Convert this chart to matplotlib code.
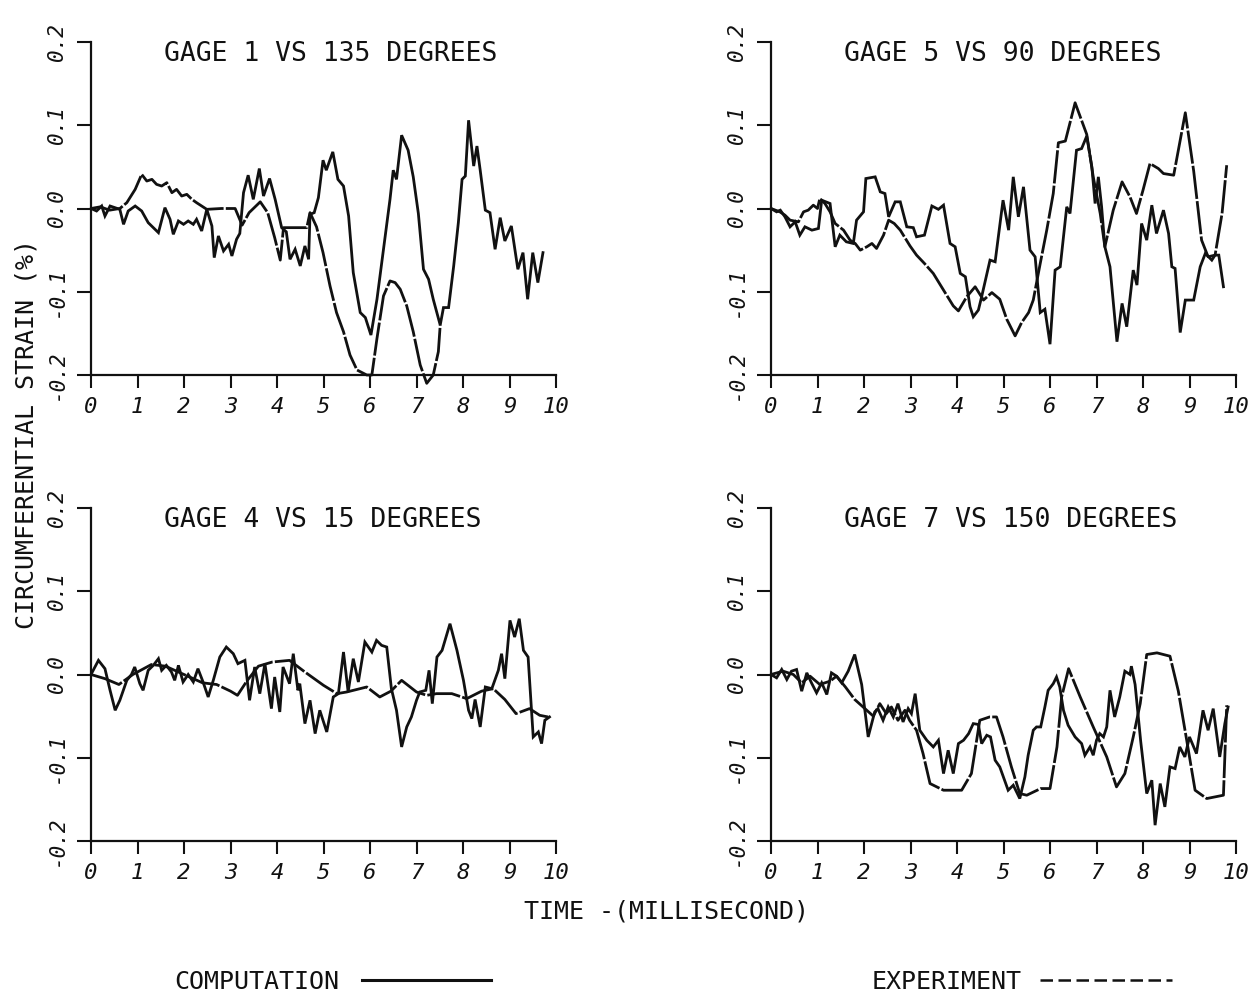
import matplotlib
matplotlib.use("Agg")
import matplotlib.pyplot as plt
from matplotlib.lines import Line2D

plt.rcParams['axes.unicode_minus'] = False
MONO = 'DejaVu Sans Mono'

# ---------------- data (time in ms, strain in %) ----------------
titles = ["GAGE 1 VS 135 DEGREES", "GAGE 5 VS 90 DEGREES",
          "GAGE 4 VS 15 DEGREES", "GAGE 7 VS 150 DEGREES"]
x_ticks = [0, 1, 2, 3, 4, 5, 6, 7, 8, 9, 10]
x_tick_labels = ["0", "1", "2", "3", "4", "5", "6", "7", "8", "9", "10"]
y_ticks = [-0.2, -0.1, 0.0, 0.1, 0.2]
y_tick_labels = ["-0.2", "-0.1", "0.0", "0.1", "0.2"]

# Gage 1 - computation
g1_comp_t = [0.0, 0.12, 0.23, 0.3, 0.41, 0.62, 0.7, 0.8, 0.95, 1.09, 1.23, 1.45, 1.59, 1.7, 1.77,
             1.88, 1.99, 2.09, 2.2, 2.27, 2.38, 2.49, 2.6, 2.65, 2.74, 2.85, 2.96, 3.03, 3.13, 3.2,
             3.28, 3.38, 3.49, 3.62, 3.71, 3.84, 3.96, 4.1, 4.2, 4.28, 4.39, 4.5, 4.6, 4.68, 4.71,
             4.8, 4.89, 4.99, 5.06, 5.2, 5.31, 5.43, 5.54, 5.64, 5.79, 5.9, 6.02, 6.15, 6.29, 6.43,
             6.5, 6.57, 6.68, 6.82, 6.93, 7.04, 7.15, 7.26, 7.36, 7.51, 7.58, 7.69, 7.8, 7.9, 7.98,
             8.05, 8.12, 8.23, 8.3, 8.37, 8.48, 8.58, 8.69, 8.8, 8.9, 9.04, 9.18, 9.29, 9.39, 9.5,
             9.61, 9.72]
g1_comp_v = [0.0, -0.003, 0.003, -0.009, 0.003, -0.001, -0.019, -0.003, 0.003, -0.003, -0.017,
             -0.029, 0.001, -0.013, -0.031, -0.015, -0.019, -0.015, -0.019, -0.013, -0.027, -0.001,
             -0.021, -0.059, -0.033, -0.051, -0.043, -0.057, -0.037, -0.03, 0.019, 0.04, 0.011,
             0.048, 0.015, 0.036, 0.011, -0.023, -0.028, -0.061, -0.049, -0.069, -0.045, -0.061,
             -0.007, -0.005, 0.013, 0.058, 0.046, 0.068, 0.035, 0.027, -0.009, -0.077, -0.125,
             -0.131, -0.152, -0.109, -0.049, 0.011, 0.046, 0.035, 0.088, 0.07, 0.038, -0.006,
             -0.073, -0.085, -0.109, -0.14, -0.119, -0.119, -0.069, -0.017, 0.035, 0.039, 0.106,
             0.051, 0.075, 0.046, -0.002, -0.005, -0.049, -0.011, -0.039, -0.021, -0.073, -0.053,
             -0.109, -0.053, -0.089, -0.053]
# Gage 1 - experiment
g1_exp_t = [0.0, 0.2, 0.4, 0.62, 0.77, 0.95, 1.09, 1.2, 1.31, 1.41, 1.52, 1.63, 1.74, 1.84, 1.95,
            2.06, 2.17, 2.27, 2.38, 2.49, 2.8, 3.1, 3.25, 3.4, 3.64, 3.8, 3.95, 4.07, 4.14, 4.64,
            4.71, 4.85, 4.99, 5.14, 5.28, 5.43, 5.57, 5.72, 5.93, 6.04, 6.15, 6.29, 6.43, 6.54,
            6.65, 6.79, 6.93, 7.08, 7.22, 7.36, 7.47, 7.51]
g1_exp_v = [0.0, 0.002, -0.002, 0.0, 0.007, 0.023, 0.041, 0.033, 0.035, 0.029, 0.027, 0.031,
            0.019, 0.023, 0.015, 0.017, 0.011, 0.007, 0.003, -0.001, 0.0, 0.0, -0.02, -0.005,
            0.008, -0.005, -0.035, -0.062, -0.023, -0.023, -0.005, -0.022, -0.053, -0.093,
            -0.125, -0.148, -0.176, -0.194, -0.2, -0.2, -0.156, -0.105, -0.087, -0.089, -0.097,
            -0.117, -0.148, -0.188, -0.21, -0.2, -0.172, -0.14]

# Gage 5 - computation
g5_comp_t = [0.0, 0.12, 0.2, 0.3, 0.41, 0.52, 0.62, 0.73, 0.88, 1.02, 1.09, 1.27, 1.38, 1.48,
             1.62, 1.77, 1.84, 1.99, 2.04, 2.24, 2.35, 2.45, 2.53, 2.67, 2.78, 2.92, 3.06, 3.13,
             3.3, 3.46, 3.6, 3.71, 3.85, 3.96, 4.07, 4.18, 4.28, 4.35, 4.46, 4.53, 4.71, 4.82,
             4.99, 5.11, 5.21, 5.32, 5.43, 5.57, 5.68, 5.79, 5.89, 6.0, 6.11, 6.22, 6.36, 6.43,
             6.57, 6.68, 6.79, 6.9, 6.97, 7.04, 7.11, 7.18, 7.29, 7.44, 7.55, 7.65, 7.79, 7.87,
             7.97, 8.08, 8.19, 8.29, 8.44, 8.55, 8.62, 8.69, 8.8, 8.91, 9.09, 9.23, 9.34, 9.48,
             9.55, 9.63, 9.73]
g5_comp_v = [0.0, -0.004, -0.002, -0.01, -0.022, -0.016, -0.032, -0.022, -0.026, -0.024, 0.01,
             0.006, -0.046, -0.032, -0.04, -0.042, -0.014, -0.004, 0.036, 0.038, 0.02, 0.018,
             -0.01, 0.008, 0.008, -0.022, -0.023, -0.034, -0.032, 0.003, -0.001, 0.004, -0.042,
             -0.046, -0.078, -0.082, -0.118, -0.13, -0.122, -0.106, -0.062, -0.064, 0.01, -0.026,
             0.038, -0.01, 0.026, -0.05, -0.058, -0.125, -0.121, -0.163, -0.074, -0.07, 0.002,
             -0.006, 0.07, 0.072, 0.087, 0.05, 0.006, 0.038, 0.002, -0.046, -0.07, -0.16, -0.114,
             -0.142, -0.074, -0.092, -0.018, -0.038, 0.004, -0.03, -0.002, -0.03, -0.07, -0.072,
             -0.149, -0.11, -0.11, -0.07, -0.054, -0.062, -0.056, -0.056, -0.094]
# Gage 5 - experiment
g5_exp_t = [0.0, 0.19, 0.3, 0.41, 0.59, 0.7, 0.8, 0.91, 1.0, 1.05, 1.16, 1.27, 1.38, 1.56, 1.7,
            1.81, 1.92, 2.06, 2.17, 2.27, 2.42, 2.53, 2.65, 2.78, 2.99, 3.13, 3.3, 3.49, 3.71,
            3.92, 4.03, 4.21, 4.39, 4.57, 4.75, 4.92, 5.07, 5.25, 5.39, 5.54, 5.64, 5.79, 5.93,
            6.07, 6.18, 6.33, 6.54, 6.79, 6.93, 7.08, 7.18, 7.36, 7.55, 7.72, 7.86, 8.0, 8.15,
            8.33, 8.44, 8.66, 8.91, 9.09, 9.26, 9.4, 9.55, 9.7, 9.8]
g5_exp_v = [0.0, -0.004, -0.008, -0.014, -0.016, -0.004, -0.002, 0.004, 0.0, 0.012, 0.006,
            -0.004, -0.018, -0.026, -0.038, -0.042, -0.05, -0.046, -0.042, -0.048, -0.032, -0.014,
            -0.018, -0.026, -0.045, -0.056, -0.066, -0.078, -0.098, -0.117, -0.123, -0.106,
            -0.094, -0.11, -0.101, -0.109, -0.133, -0.153, -0.137, -0.125, -0.11, -0.066, -0.026,
            0.018, 0.079, 0.081, 0.127, 0.089, 0.038, -0.006, -0.046, -0.002, 0.032, 0.014,
            -0.006, 0.022, 0.054, 0.048, 0.042, 0.04, 0.115, 0.045, -0.038, -0.058, -0.056,
            -0.006, 0.052]

# Gage 4 - computation
g4_comp_t = [0.0, 0.16, 0.3, 0.41, 0.52, 0.62, 0.77, 0.87, 0.94, 1.05, 1.12, 1.23, 1.34, 1.45,
             1.52, 1.62, 1.73, 1.8, 1.88, 1.98, 2.09, 2.2, 2.3, 2.41, 2.52, 2.63, 2.77, 2.91,
             3.06, 3.16, 3.31, 3.41, 3.52, 3.63, 3.74, 3.88, 3.95, 4.06, 4.13, 4.27, 4.35, 4.45,
             4.49, 4.6, 4.71, 4.82, 4.92, 5.07, 5.21, 5.32, 5.43, 5.53, 5.64, 5.75, 5.89, 6.04,
             6.14, 6.25, 6.36, 6.46, 6.57, 6.68, 6.79, 6.89, 7.0, 7.07, 7.2, 7.27, 7.34, 7.44,
             7.55, 7.72, 7.87, 8.01, 8.12, 8.19, 8.26, 8.37, 8.48, 8.62, 8.76, 8.83, 8.9, 9.01,
             9.11, 9.21, 9.3, 9.4, 9.51, 9.62, 9.69, 9.76, 9.86]
g4_comp_v = [0.0, 0.017, 0.007, -0.019, -0.043, -0.031, -0.007, 0.0, 0.009, -0.011, -0.019,
             0.005, 0.011, 0.019, 0.005, 0.011, 0.003, -0.007, 0.011, -0.009, 0.0, -0.009, 0.007,
             -0.009, -0.027, -0.007, 0.021, 0.033, 0.025, 0.013, 0.017, -0.031, 0.009, -0.023,
             0.013, -0.041, -0.003, -0.045, 0.009, -0.011, 0.025, -0.019, -0.011, -0.059, -0.031,
             -0.071, -0.043, -0.069, -0.027, -0.023, 0.027, -0.021, 0.019, -0.009, 0.039, 0.027,
             0.041, 0.035, 0.033, -0.017, -0.043, -0.087, -0.063, -0.051, -0.031, -0.021, -0.019,
             0.005, -0.035, 0.021, 0.029, 0.061, 0.029, -0.007, -0.043, -0.053, -0.03, -0.063,
             -0.015, -0.017, 0.005, 0.025, -0.005, 0.065, 0.045, 0.067, 0.029, 0.021, -0.075,
             -0.069, -0.083, -0.055, -0.051]
# Gage 4 - experiment
g4_exp_t = [0.0, 0.3, 0.6, 0.9, 1.3, 1.6, 2.0, 2.4, 2.7, 3.0, 3.15, 3.35, 3.6, 3.9, 4.27, 4.6,
            5.0, 5.29, 5.5, 5.93, 6.21, 6.45, 6.68, 7.0, 7.22, 7.43, 7.76, 8.08, 8.4, 8.65, 8.9,
            9.14, 9.43, 9.65, 9.83]
g4_exp_v = [0.0, -0.005, -0.012, 0.0, 0.012, 0.01, 0.0, -0.01, -0.012, -0.02, -0.025, -0.008,
            0.01, 0.015, 0.017, 0.003, -0.013, -0.023, -0.021, -0.015, -0.027, -0.02, -0.007,
            -0.021, -0.025, -0.023, -0.023, -0.029, -0.02, -0.017, -0.03, -0.047, -0.041,
            -0.049, -0.051]

# Gage 7 - computation
g7_comp_t = [0.0, 0.12, 0.23, 0.34, 0.44, 0.55, 0.66, 0.77, 0.87, 0.98, 1.09, 1.2, 1.3, 1.41,
             1.52, 1.66, 1.8, 1.95, 2.09, 2.23, 2.3, 2.41, 2.52, 2.63, 2.73, 2.84, 2.95, 3.02,
             3.1, 3.2, 3.35, 3.49, 3.6, 3.71, 3.81, 3.92, 4.03, 4.14, 4.25, 4.35, 4.46, 4.53,
             4.64, 4.72, 4.82, 4.92, 5.1, 5.21, 5.35, 5.46, 5.53, 5.64, 5.71, 5.8, 5.89, 5.96,
             6.07, 6.14, 6.21, 6.29, 6.39, 6.54, 6.68, 6.75, 6.86, 6.93, 7.0, 7.07, 7.15, 7.22,
             7.29, 7.39, 7.5, 7.61, 7.72, 7.75, 7.83, 7.95, 8.08, 8.19, 8.26, 8.37, 8.47, 8.58,
             8.69, 8.79, 8.9, 9.0, 9.15, 9.29, 9.4, 9.51, 9.65, 9.76, 9.83]
g7_comp_v = [0.0, -0.004, 0.006, -0.006, 0.004, 0.006, -0.02, 0.002, -0.01, -0.022, -0.01,
             -0.024, 0.002, -0.002, -0.01, 0.004, 0.024, -0.012, -0.075, -0.045, -0.041, -0.055,
             -0.039, -0.051, -0.035, -0.057, -0.041, -0.047, -0.023, -0.067, -0.079, -0.087,
             -0.079, -0.119, -0.091, -0.119, -0.083, -0.079, -0.071, -0.059, -0.06, -0.083,
             -0.073, -0.075, -0.103, -0.111, -0.139, -0.133, -0.149, -0.123, -0.097, -0.067,
             -0.063, -0.063, -0.039, -0.019, -0.011, -0.003, -0.015, -0.043, -0.061, -0.075,
             -0.083, -0.097, -0.087, -0.097, -0.079, -0.071, -0.075, -0.063, -0.019, -0.051,
             -0.027, 0.004, 0.0, 0.01, -0.012, -0.08, -0.143, -0.127, -0.181, -0.131, -0.159,
             -0.111, -0.113, -0.087, -0.099, -0.075, -0.095, -0.043, -0.067, -0.041, -0.099,
             -0.059, -0.039]
# Gage 7 - experiment
g7_exp_t = [0.0, 0.26, 0.48, 0.66, 0.84, 1.05, 1.27, 1.41, 1.6, 1.8, 2.0, 2.2, 2.34, 2.48,
            2.59, 2.73, 2.88, 2.98, 3.13, 3.27, 3.42, 3.71, 4.1, 4.31, 4.49, 4.7, 4.85, 4.99,
            5.17, 5.35, 5.5, 5.8, 6.0, 6.15, 6.25, 6.4, 6.65, 6.93, 7.22, 7.43, 7.61, 7.79,
            7.94, 8.08, 8.3, 8.58, 8.76, 8.94, 9.12, 9.37, 9.73, 9.8]
g7_exp_v = [0.0, 0.004, 0.0, -0.01, -0.002, -0.012, -0.008, -0.002, -0.015, -0.03, -0.04,
            -0.05, -0.035, -0.047, -0.039, -0.055, -0.043, -0.055, -0.067, -0.095, -0.131,
            -0.139, -0.139, -0.119, -0.055, -0.051, -0.051, -0.075, -0.111, -0.143, -0.145,
            -0.137, -0.137, -0.087, -0.027, 0.007, -0.027, -0.063, -0.099, -0.135, -0.119,
            -0.075, -0.035, 0.024, 0.026, 0.022, -0.02, -0.079, -0.139, -0.149, -0.145, -0.037]

panels = [
    (g1_comp_t, g1_comp_v, g1_exp_t, g1_exp_v),
    (g5_comp_t, g5_comp_v, g5_exp_t, g5_exp_v),
    (g4_comp_t, g4_comp_v, g4_exp_t, g4_exp_v),
    (g7_comp_t, g7_comp_v, g7_exp_t, g7_exp_v),
]

# ---------------- figure ----------------
W, H = 1260, 1000
fig = plt.figure(figsize=(W / 100, H / 100), dpi=100)
fig.patch.set_facecolor('white')

ax_w, ax_h = 465, 333
origins = [(91, 42), (771, 42), (91, 508), (771, 508)]  # pixel top-left of each axes

INK = '#111111'
for (px, py), title, (ct, cv, et, ev) in zip(origins, titles, panels):
    ax = fig.add_axes([px / W, 1 - (py + ax_h) / H, ax_w / W, ax_h / H])
    ax.set_xlim(0, 10)
    ax.set_ylim(-0.2, 0.2)
    for s in ('top', 'right'):
        ax.spines[s].set_visible(False)
    for s in ('left', 'bottom'):
        ax.spines[s].set_linewidth(1.6)
        ax.spines[s].set_color(INK)
    ax.set_xticks(x_ticks)
    ax.set_xticklabels(x_tick_labels, fontsize=16, family=MONO, style='italic', color=INK)
    ax.set_yticks(y_ticks)
    ax.set_yticklabels(y_tick_labels, fontsize=15, family=MONO, style='italic', color=INK,
                       rotation=90, va='center')
    ax.tick_params(axis='x', direction='out', length=9, width=1.5, pad=7, colors=INK)
    ax.tick_params(axis='y', direction='out', length=10, width=1.5, pad=7, colors=INK)

    ax.plot(ct, cv, color=INK, lw=2.0, clip_on=False, solid_joinstyle='miter')
    ax.plot(et, ev, color=INK, lw=2.0, clip_on=False, dashes=(12, 0.8))

    ax.text(0.157, 0.963, title, transform=ax.transAxes, ha='left', va='center',
            fontsize=19, family=MONO, color=INK)

fig.text(27 / W, 1 - 434 / H, "CIRCUMFERENTIAL STRAIN (%)", rotation=90,
         ha='center', va='center', fontsize=18, family=MONO, color=INK)
fig.text(666 / W, 1 - 912 / H, "TIME -(MILLISECOND)", ha='center', va='center',
         fontsize=18, family=MONO, color=INK)

fig.text(174 / W, 1 - 982 / H, "COMPUTATION", ha='left', va='center',
         fontsize=18, family=MONO, color=INK)
fig.add_artist(Line2D([362 / W, 491 / W], [1 - 980 / H, 1 - 980 / H],
                      transform=fig.transFigure, color=INK, lw=2.2))
fig.text(872 / W, 1 - 982 / H, "EXPERIMENT", ha='left', va='center',
         fontsize=18, family=MONO, color=INK)
fig.add_artist(Line2D([1040 / W, 1172 / W], [1 - 980 / H, 1 - 980 / H],
                      transform=fig.transFigure, color=INK, lw=1.8, dashes=(5, 2.2)))

fig.savefig("out.png", dpi=100, facecolor='white')
